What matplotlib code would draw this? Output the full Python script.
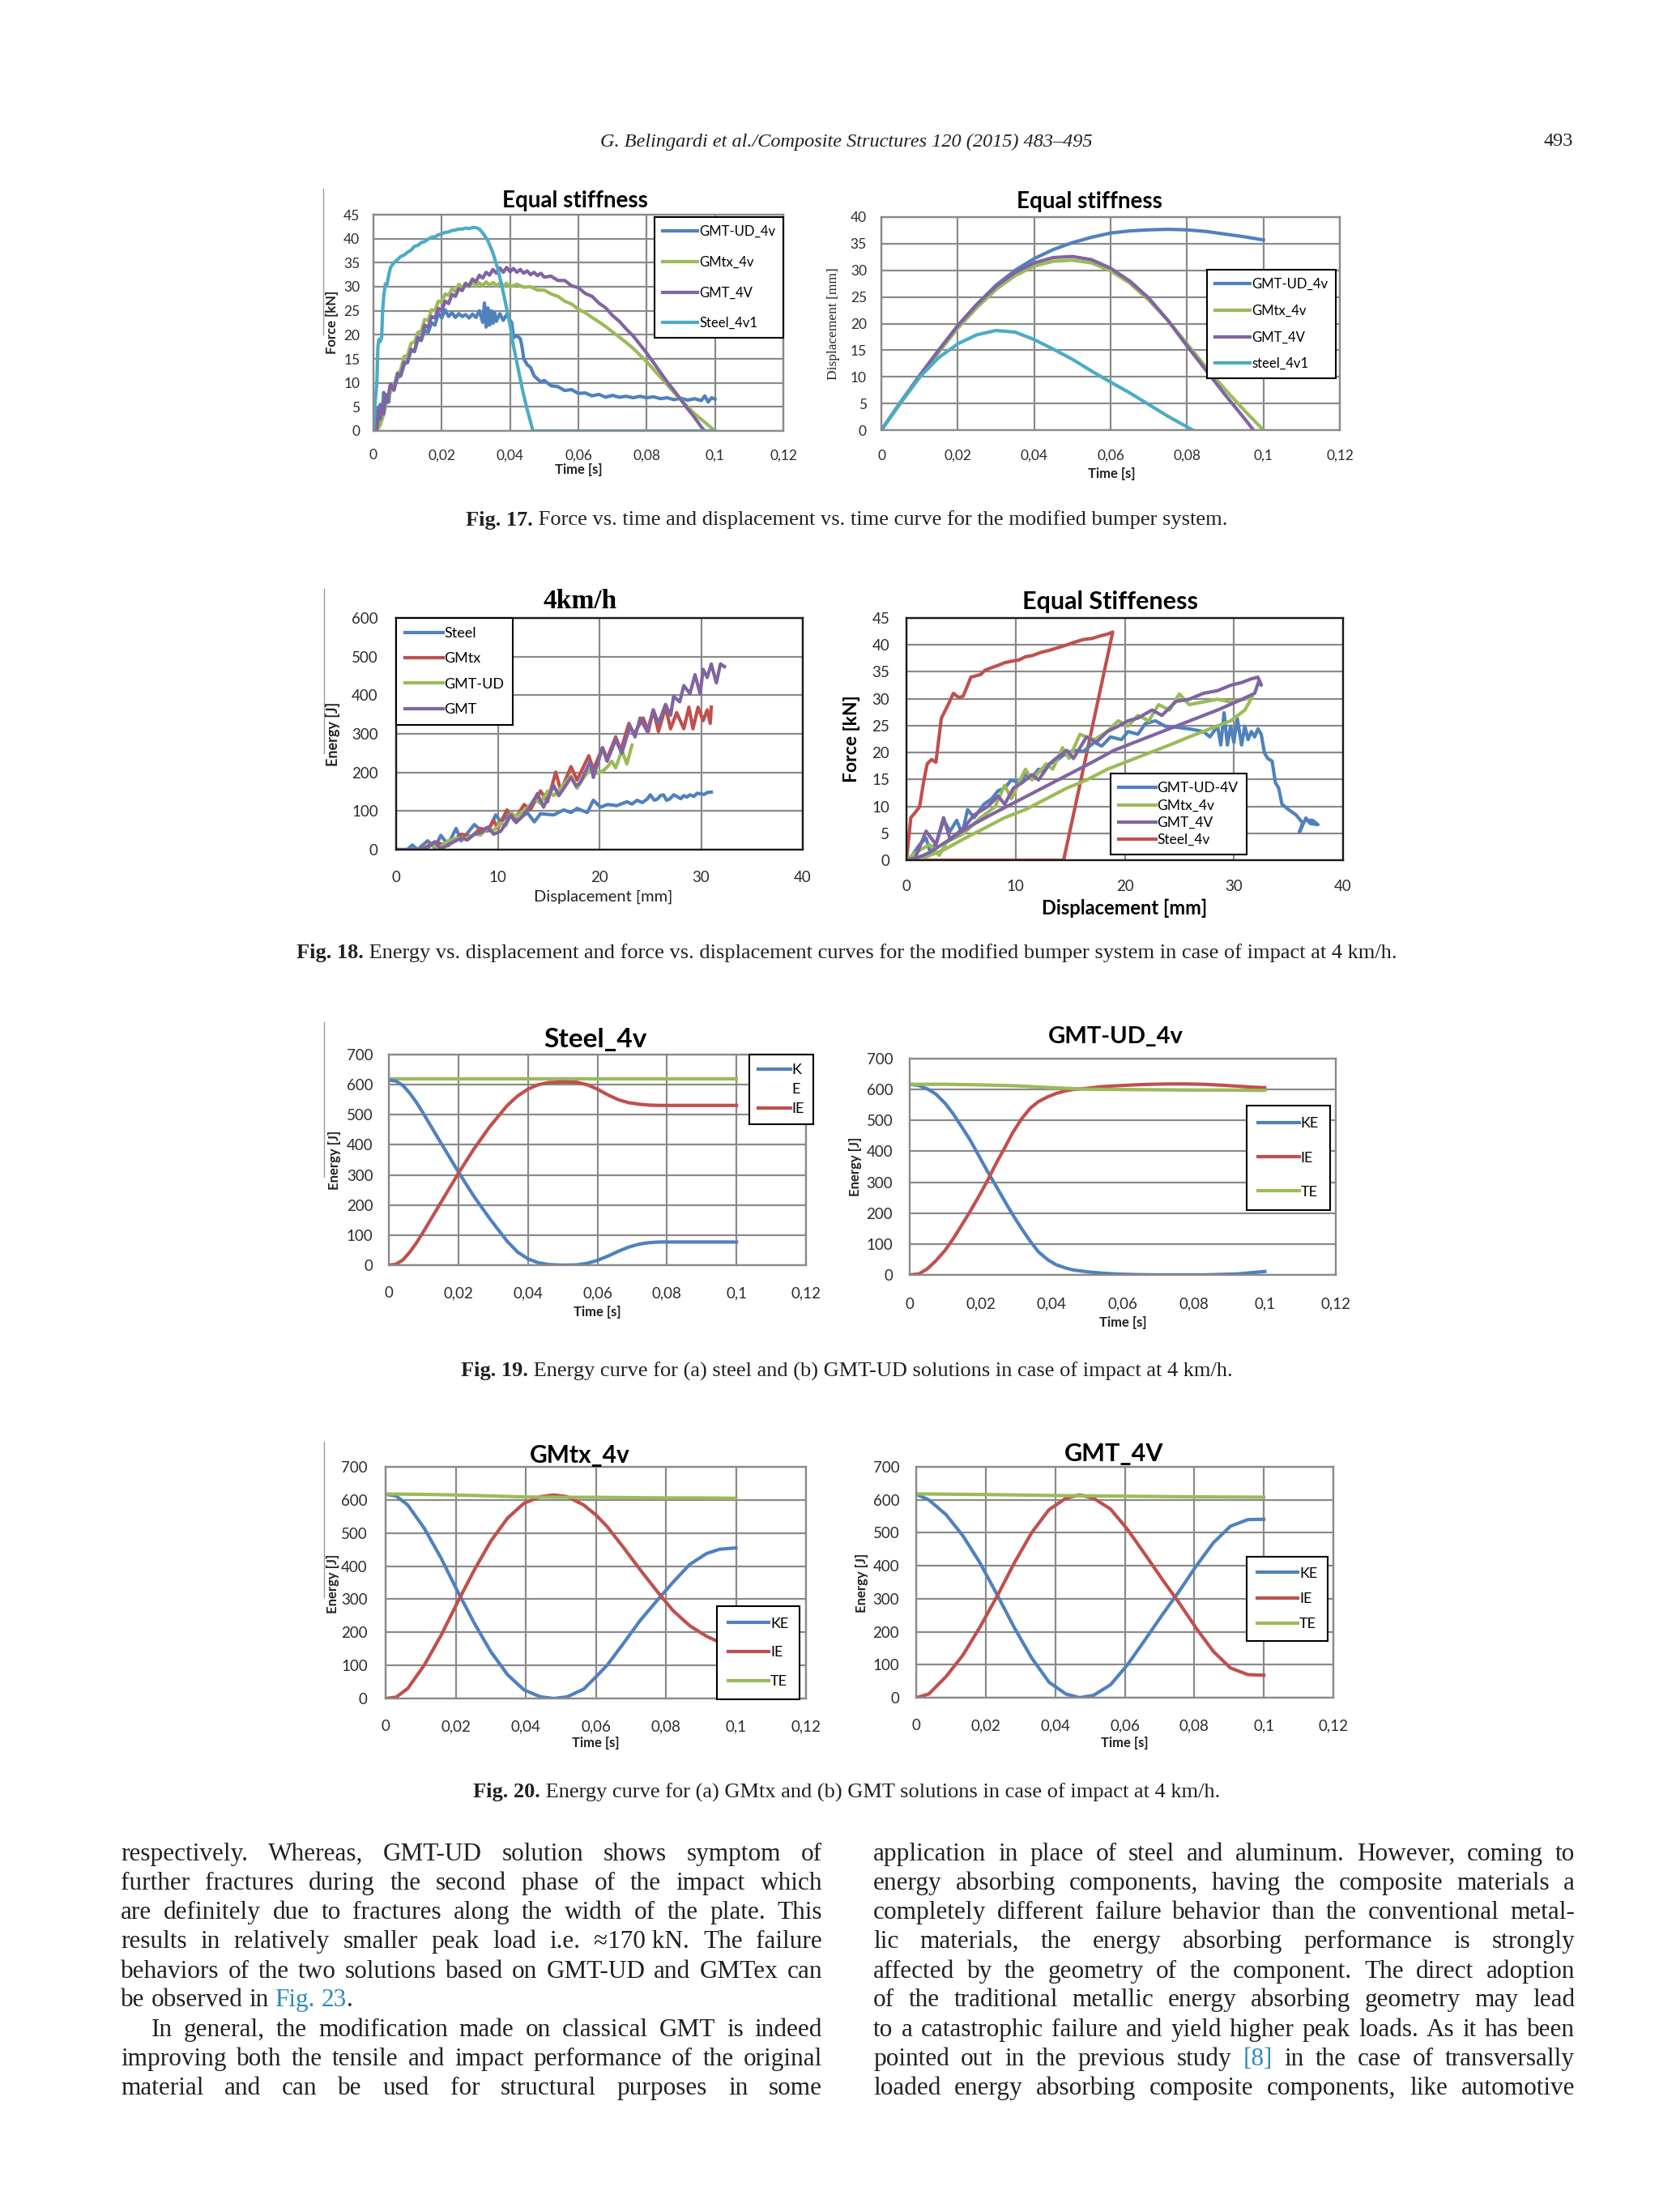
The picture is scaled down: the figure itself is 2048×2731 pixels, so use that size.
import numpy as np
import matplotlib
matplotlib.use('Agg')
import matplotlib.pyplot as plt
from matplotlib.lines import Line2D

#%% Data read from the page
time_ticks = [0, 0.02, 0.04, 0.06, 0.08, 0.1, 0.12]
time_labels = ['0', '0,02', '0,04', '0,06', '0,08', '0,1', '0,12']
disp_ticks = [0, 10, 20, 30, 40]
disp_labels = ['0', '10', '20', '30', '40']

# Fig 17 (a): force [kN] vs time [s]
f17_ud = [(0, 0), (0.0005, 2), (0.001, 4.8), (0.0015, 1.5), (0.002, 5.5), (0.0025, 3), (0.003, 8),
          (0.0035, 5), (0.004, 7), (0.0045, 6), (0.005, 9.6), (0.006, 8.5), (0.007, 11), (0.008, 11.5),
          (0.009, 13.8), (0.010, 14.5), (0.011, 16.8), (0.012, 16.5), (0.013, 19), (0.014, 18.8),
          (0.015, 21), (0.016, 20.5), (0.017, 22.5), (0.018, 22), (0.019, 24.5), (0.020, 23.5),
          (0.021, 25.2), (0.022, 23.8), (0.023, 24.6), (0.024, 23.6), (0.025, 24.4), (0.026, 23.8),
          (0.027, 24.2), (0.028, 23.5), (0.029, 24.3), (0.030, 23.6), (0.031, 25.0), (0.032, 22.6),
          (0.0325, 26.6), (0.033, 21.6), (0.0335, 25.6), (0.034, 22.0), (0.0345, 25.0), (0.035, 22.4),
          (0.0355, 24.6), (0.036, 22.8), (0.037, 24.4), (0.038, 23.0), (0.039, 24.2), (0.040, 23),
          (0.0405, 22.5), (0.041, 19.4), (0.042, 19.8), (0.043, 19.2), (0.0435, 17.5), (0.044, 15),
          (0.045, 13.8), (0.046, 13.2), (0.047, 11.5), (0.048, 10.8), (0.049, 10.2), (0.050, 10.5),
          (0.052, 9.4), (0.054, 9.2), (0.056, 8.4), (0.058, 8.6), (0.060, 7.8), (0.062, 7.9),
          (0.064, 7.3), (0.066, 7.6), (0.068, 7.0), (0.070, 7.4), (0.072, 7.0), (0.074, 7.2),
          (0.076, 6.9), (0.078, 7.2), (0.080, 6.9), (0.082, 7.1), (0.084, 6.7), (0.086, 6.9),
          (0.088, 6.5), (0.090, 6.8), (0.092, 6.4), (0.094, 6.7), (0.096, 6.3), (0.097, 7.3),
          (0.098, 6.0), (0.099, 6.9), (0.100, 6.6)]
f17_gmtx = [(0, 0), (0.001, 0), (0.002, 1.2), (0.003, 3.5), (0.004, 6.5), (0.005, 8), (0.006, 9.5),
            (0.007, 11.5), (0.008, 12.8), (0.009, 15.5), (0.010, 15.8), (0.011, 18.2), (0.012, 18.5),
            (0.013, 20.5), (0.014, 20.8), (0.015, 23.2), (0.016, 23), (0.017, 25.2), (0.018, 25),
            (0.019, 27), (0.020, 26.8), (0.021, 28.5), (0.022, 28.2), (0.023, 29.6), (0.024, 29.0),
            (0.025, 30.5), (0.026, 29.8), (0.027, 30.8), (0.028, 30.0), (0.029, 31.0), (0.030, 30.2),
            (0.031, 30.8), (0.032, 30.2), (0.033, 31.0), (0.034, 30.3), (0.035, 30.9), (0.036, 30.2),
            (0.037, 30.8), (0.038, 30.1), (0.039, 30.7), (0.040, 30.0), (0.042, 30.5), (0.044, 29.9),
            (0.046, 30.0), (0.048, 29.3), (0.050, 29.3), (0.052, 28.5), (0.054, 28.0), (0.056, 27.0),
            (0.058, 26.4), (0.060, 25.3), (0.062, 24.6), (0.064, 23.6), (0.066, 22.7), (0.068, 21.7),
            (0.070, 20.6), (0.072, 19.5), (0.074, 18.4), (0.076, 17.2), (0.078, 15.8), (0.080, 14.4),
            (0.082, 12.8), (0.084, 11.2), (0.086, 9.6), (0.088, 8.0), (0.090, 6.5), (0.092, 5.0),
            (0.094, 3.6), (0.096, 2.4), (0.098, 1.2), (0.100, 0)]
f17_gmt = [(0, 0), (0.001, 0.5), (0.0015, 4.2), (0.002, 2.5), (0.0025, 5.5), (0.003, 3.5), (0.0035, 7.6),
           (0.004, 6), (0.005, 9.8), (0.006, 8.5), (0.007, 12), (0.008, 11.5), (0.009, 14.3),
           (0.010, 14.2), (0.011, 17), (0.012, 16.5), (0.013, 19.5), (0.014, 19), (0.015, 22),
           (0.016, 21.5), (0.017, 23.8), (0.018, 23.5), (0.019, 25.5), (0.020, 25), (0.021, 27),
           (0.022, 26.5), (0.023, 28.4), (0.024, 28), (0.025, 29.6), (0.026, 29.2), (0.027, 30.6),
           (0.028, 30.2), (0.029, 31.6), (0.030, 31.0), (0.031, 32.4), (0.032, 31.8), (0.033, 33.0),
           (0.034, 32.4), (0.035, 33.6), (0.036, 32.8), (0.037, 33.9), (0.038, 33.0), (0.039, 34.0),
           (0.040, 33.1), (0.041, 33.8), (0.042, 33.0), (0.043, 33.6), (0.044, 32.8), (0.045, 33.3),
           (0.046, 32.5), (0.047, 33.0), (0.048, 32.3), (0.049, 32.8), (0.050, 32.0), (0.052, 32.2),
           (0.054, 31.3), (0.056, 31.3), (0.058, 30.2), (0.060, 29.8), (0.062, 28.6), (0.064, 28.0),
           (0.066, 26.6), (0.068, 25.6), (0.070, 24.0), (0.072, 22.8), (0.074, 21.2), (0.076, 19.8),
           (0.078, 18.0), (0.080, 16.2), (0.082, 14.2), (0.084, 12.2), (0.086, 10.2), (0.088, 8.4),
           (0.090, 6.5), (0.092, 4.6), (0.094, 2.8), (0.096, 0.8), (0.097, 0)]
f17_steel = [(0, 0), (0.0005, 6), (0.001, 10), (0.0013, 17.5), (0.0016, 19), (0.002, 18.6), (0.0024, 19.5),
             (0.0027, 25), (0.003, 28), (0.0035, 30.6), (0.004, 30.5), (0.0045, 32.5), (0.005, 34),
             (0.006, 35), (0.007, 35.6), (0.008, 36.3), (0.009, 36.6), (0.010, 37.2), (0.011, 37.6),
             (0.012, 38.4), (0.013, 38.6), (0.014, 39.2), (0.015, 39.4), (0.016, 39.9), (0.017, 40.3),
             (0.018, 40.4), (0.019, 40.8), (0.020, 41.0), (0.021, 41.3), (0.022, 41.4), (0.023, 41.7),
             (0.024, 41.8), (0.025, 42.0), (0.026, 42.0), (0.027, 42.2), (0.028, 42.1), (0.029, 42.3),
             (0.030, 42.3), (0.031, 42.0), (0.032, 41.2), (0.0335, 39.6), (0.035, 37.0), (0.0363, 34.0),
             (0.0375, 30.5), (0.0387, 26.5), (0.040, 22.0), (0.041, 17.7), (0.0425, 12.5), (0.0438, 8.0),
             (0.045, 4.5), (0.0467, 0), (0.1, 0)]

# Fig 17 (b): displacement [mm] vs time [s]
f17_disp_time = [0, 0.005, 0.01, 0.015, 0.02, 0.025, 0.03, 0.035, 0.04, 0.045, 0.05,
                 0.055, 0.06, 0.065, 0.07, 0.075, 0.08, 0.085, 0.09, 0.095, 0.1]
f17_disp_ud = [0, 5.2, 10.2, 15.0, 19.6, 23.6, 27.2, 30.0, 32.2, 33.9, 35.2,
               36.2, 37.0, 37.4, 37.6, 37.7, 37.6, 37.3, 36.8, 36.3, 35.7]
f17_disp_gmtx = [0, 5.0, 9.9, 14.6, 19.1, 23.0, 26.4, 29.0, 30.8, 31.7, 31.9,
                 31.4, 29.9, 27.6, 24.4, 20.6, 16.2, 11.8, 7.6, 3.7, 0]
f17_disp_gmt_time = [0, 0.005, 0.01, 0.015, 0.02, 0.025, 0.03, 0.035, 0.04, 0.045, 0.05,
                     0.055, 0.06, 0.065, 0.07, 0.075, 0.08, 0.085, 0.09, 0.095, 0.0974]
f17_disp_gmt = [0, 5.2, 10.2, 15.0, 19.6, 23.6, 27.0, 29.6, 31.4, 32.4, 32.6,
                32.0, 30.4, 28.0, 24.8, 20.6, 15.8, 11.2, 6.6, 2.2, 0]
f17_disp_steel_time = [0, 0.005, 0.01, 0.015, 0.02, 0.025, 0.03, 0.035, 0.04,
                       0.045, 0.05, 0.055, 0.06, 0.065, 0.07, 0.075, 0.0815]
f17_disp_steel = [0, 5.2, 9.9, 13.6, 16.2, 17.9, 18.7, 18.4, 17.0,
                  15.2, 13.3, 11.1, 9.0, 7.0, 4.8, 2.6, 0]

# Fig 18 (a): energy [J] vs displacement [mm]
f18_steel = [(0, 0), (1.1, 0), (1.6, 12), (2.1, 0), (3.1, 23), (3.8, 5), (4.4, 37), (5.1, 13), (5.9, 55),
             (6.4, 23), (7.7, 65), (8.3, 51), (9.2, 58), (9.8, 90), (10.3, 72), (11.3, 96), (11.9, 75),
             (12.9, 96), (13.6, 72), (14.2, 93), (15.5, 90), (16.5, 103), (17.2, 96), (17.8, 107),
             (18.8, 96), (19.4, 128), (20.1, 110), (20.8, 117), (21.7, 114), (22.7, 124), (23.2, 118),
             (23.7, 128), (24.2, 122), (24.7, 131), (25.0, 142), (25.4, 128), (25.7, 131), (26.0, 140),
             (26.3, 142), (26.6, 128), (26.9, 131), (27.3, 142), (27.6, 138), (28.0, 132), (28.3, 140),
             (28.6, 136), (28.9, 142), (29.3, 138), (29.6, 146), (29.9, 145), (30.3, 143), (30.6, 148),
             (31.0, 149)]
f18_gmtx = [(0, 0), (2.5, 0), (3.8, 20), (5.1, 10), (6.4, 40), (7.4, 34), (8.3, 55), (9.0, 48), (9.6, 76),
            (10.0, 55), (10.9, 103), (11.6, 76), (12.6, 117), (13.2, 103), (14.2, 152), (14.9, 124),
            (15.7, 201), (16.2, 152), (17.2, 215), (17.8, 180), (18.95, 243), (19.4, 208), (20.3, 264),
            (20.75, 236), (21.6, 292), (22.1, 257), (22.9, 327), (23.4, 299), (24.3, 341), (24.8, 306),
            (25.3, 362), (25.8, 306), (26.5, 369), (27.0, 313), (27.6, 355), (28.3, 313), (28.8, 369),
            (29.2, 313), (29.7, 369), (30.2, 334), (30.6, 362), (30.9, 327), (31.0, 369)]
f18_ud = [(0, 0), (2.8, 0), (3.5, 12), (4.2, 5), (5.1, 23), (6.0, 30), (6.8, 28), (7.7, 40), (8.3, 38),
          (9.0, 55), (9.6, 50), (10.3, 69), (10.8, 62), (11.3, 96), (11.8, 85), (12.3, 96), (13.0, 110),
          (13.6, 131), (14.2, 120), (14.9, 152), (15.5, 140), (16.2, 160), (16.7, 175), (17.2, 191),
          (17.8, 159), (18.4, 185), (19.1, 208), (19.8, 198), (20.4, 205), (20.8, 215), (21.2, 229),
          (21.6, 212), (22.2, 257), (22.7, 222), (23.2, 271)]
f18_gmt = [(0, 0), (2.8, 0), (3.8, 20), (4.4, 2), (5.5, 18), (6.4, 30), (7.0, 25), (7.7, 40), (8.4, 45),
           (9.0, 58), (9.6, 40), (10.3, 48), (11.3, 90), (11.8, 70), (12.3, 83), (13.3, 115), (13.9, 145),
           (14.5, 110), (15.5, 166), (16.0, 140), (16.5, 159), (17.2, 187), (17.7, 165), (18.1, 173),
           (19.1, 229), (19.4, 187), (20.3, 264), (20.75, 229), (21.6, 285), (22.2, 250), (23.0, 320),
           (23.5, 292), (24.0, 341), (24.7, 306), (25.3, 362), (25.8, 327), (26.5, 376), (27.0, 348),
           (27.3, 397), (27.9, 383), (28.3, 425), (28.9, 404), (29.4, 453), (29.9, 404), (30.2, 467),
           (30.6, 446), (31.0, 481), (31.5, 432), (31.9, 481), (32.3, 474)]

# Fig 18 (b): force [kN] vs displacement [mm]
f18b_steel = [(0, 0), (0.4, 7.9), (0.7, 8.6), (1.2, 9.9), (1.6, 14.9), (1.9, 17.9), (2.3, 18.7),
              (2.7, 18.2), (3.2, 26.4), (3.7, 28.4), (4.3, 31), (4.8, 30.2), (5.2, 30.5), (5.9, 34),
              (6.8, 34.5), (7.2, 35.3), (7.7, 35.7), (8.4, 36.2), (9.0, 36.7), (9.7, 37.0), (10.3, 37.2),
              (10.9, 37.8), (11.5, 38.0), (12.3, 38.6), (13.1, 39.0), (13.9, 39.5), (14.7, 40.0),
              (15.4, 40.5), (16.2, 41.0), (17.0, 41.2), (17.8, 41.7), (18.4, 42.0), (18.9, 42.4),
              (14.4, 0), (0, 0)]
f18b_ud = [(0, 0), (0.5, 0.8), (1.2, 2.9), (1.8, 4.1), (2.1, 1.9), (2.7, 3.0), (3.4, 7.4), (4.0, 5.4),
           (4.6, 7.4), (5.1, 4.9), (5.6, 9.4), (6.2, 7.9), (7.1, 10.4), (7.8, 11.4), (8.4, 12.9),
           (9.0, 13.4), (9.6, 14.9), (10.3, 14.4), (10.9, 15.9), (11.5, 15.4), (12.1, 16.9), (12.6, 16.4),
           (13.1, 17.9), (13.7, 18.4), (14.3, 19.4), (14.8, 19.9), (15.3, 20.4), (16.2, 20.2), (17.2, 21.9),
           (17.9, 21.2), (18.7, 22.9), (19.7, 22.4), (20.3, 23.9), (21.2, 23.4), (21.9, 25.4), (22.8, 25.9),
           (23.7, 24.9), (24.7, 24.7), (25.9, 24.4), (27.2, 23.9), (27.8, 22.9), (28.5, 24.9), (28.8, 21.4),
           (29.1, 27.4), (29.4, 21.4), (29.7, 24.9), (30.0, 21.9), (30.3, 26.4), (30.7, 21.4), (31.0, 24.9),
           (31.3, 22.4), (31.6, 23.9), (31.9, 22.9), (32.2, 24.4), (32.5, 23.4), (32.8, 19.9), (33.1, 18.9),
           (33.5, 18.4), (33.8, 14.4), (34.1, 13.4), (34.4, 10.4), (35.0, 9.4), (35.7, 8.4), (36.3, 6.9),
           (36.0, 5.2), (36.5, 7.4), (37.2, 7.4), (37.7, 6.6), (37.0, 6.8), (36.6, 7.8)]
f18b_gmtx = [(0, 0), (0.85, 1.4), (2.1, 2.9), (3.0, 0.9), (3.7, 3.4), (5.2, 4.9), (6.8, 7.9), (8.1, 9.9),
             (9.0, 13.9), (9.6, 11.4), (10.9, 16.9), (11.5, 14.9), (12.8, 17.9), (13.4, 16.9), (14.3, 20.9),
             (14.9, 18.9), (15.9, 23.4), (16.5, 22.9), (17.2, 22.4), (18.4, 23.9), (19.4, 25.9), (20.3, 24.9),
             (21.2, 26.9), (22.2, 25.9), (23.1, 28.9), (24.1, 27.9), (25.0, 30.9), (25.9, 28.9), (27.2, 29.4),
             (28.5, 29.9), (29.7, 29.4), (31.0, 29.9), (31.7, 30.4), (31.0, 27.9), (29.7, 25.9), (27.8, 24.4),
             (25.9, 22.9), (24.1, 21.4), (22.2, 19.9), (20.3, 18.4), (18.4, 16.9), (16.5, 14.9), (14.7, 13.4),
             (12.8, 11.4), (10.9, 9.4), (9.0, 7.9), (7.1, 5.9), (5.2, 3.9), (3.4, 1.9), (1.8, 0.6), (0, 0)]
f18b_gmt = [(0, 0), (0.8, 0.4), (1.8, 5.4), (2.7, 2.9), (3.4, 7.9), (4.0, 3.9), (5.2, 5.9), (6.2, 8.4),
            (7.4, 9.9), (8.4, 11.9), (9.0, 10.4), (9.8, 13.4), (10.6, 14.4), (11.5, 15.9), (12.1, 14.9),
            (13.1, 17.9), (13.7, 18.9), (14.7, 20.4), (15.3, 18.9), (16.5, 22.9), (17.4, 21.9), (18.4, 23.9),
            (19.4, 24.9), (20.3, 25.9), (21.2, 26.4), (22.5, 27.9), (23.4, 26.9), (24.7, 29.5), (25.9, 29.9),
            (27.2, 31.0), (28.5, 31.5), (29.7, 32.5), (30.7, 33.0), (31.6, 33.7), (32.2, 34.0), (32.5, 32.5),
            (32.3, 33.4), (31.9, 31.0), (30.3, 29.5), (28.5, 27.9), (26.6, 26.4), (24.7, 24.9), (22.8, 23.4),
            (20.9, 21.9), (19.0, 20.4), (17.2, 18.4), (15.3, 16.4), (13.4, 14.4), (11.5, 12.4), (9.6, 10.4),
            (7.7, 8.4), (5.9, 6.4), (4.0, 3.9), (2.1, 1.4), (0.5, 0)]

# Fig 19 (a) Steel_4v energies [J] vs time [s]
steel_ke = [(0, 615), (0.002, 612), (0.004, 598), (0.006, 572), (0.008, 540), (0.010, 503), (0.0148, 410),
            (0.020, 310), (0.0244, 230), (0.029, 155), (0.034, 80), (0.037, 44), (0.040, 21), (0.043, 8),
            (0.046, 2), (0.050, 0), (0.054, 1), (0.057, 6), (0.060, 16), (0.063, 30), (0.066, 46),
            (0.069, 60), (0.072, 70), (0.075, 75), (0.078, 77), (0.082, 77), (0.1, 77)]
steel_ie = [(0, 0), (0.002, 3), (0.004, 17), (0.006, 43), (0.008, 75), (0.010, 112), (0.0148, 205),
            (0.020, 305), (0.0244, 385), (0.029, 460), (0.034, 530), (0.037, 562), (0.040, 585),
            (0.043, 600), (0.046, 607), (0.050, 609), (0.054, 608), (0.057, 600), (0.060, 585),
            (0.063, 566), (0.066, 550), (0.069, 540), (0.072, 535), (0.075, 532), (0.078, 531),
            (0.082, 531), (0.1, 531)]
steel_te = [(0, 618), (0.1, 618)]

# Fig 19 (b) GMT-UD_4v
ud_ke = [(0, 617), (0.0026, 613), (0.005, 602), (0.0074, 585), (0.010, 555), (0.0122, 522), (0.0146, 480),
         (0.017, 437), (0.0195, 385), (0.0219, 335), (0.0243, 288), (0.0267, 240), (0.029, 195),
         (0.0315, 150), (0.034, 108), (0.0363, 74), (0.039, 48), (0.0412, 33), (0.044, 22), (0.046, 16),
         (0.050, 10), (0.0537, 6), (0.058, 3), (0.0633, 1), (0.070, 0), (0.0826, 0), (0.0922, 3), (0.1, 11)]
ud_ie = [(0, 0), (0.0026, 3), (0.005, 20), (0.0074, 46), (0.010, 80), (0.0122, 116), (0.0146, 160),
         (0.017, 205), (0.0195, 255), (0.0219, 305), (0.0243, 360), (0.0267, 410), (0.029, 460),
         (0.0315, 505), (0.034, 540), (0.0363, 561), (0.039, 577), (0.0412, 587), (0.044, 596),
         (0.046, 600), (0.050, 604), (0.0537, 609), (0.058, 612), (0.0633, 615), (0.068, 617),
         (0.073, 618), (0.078, 618), (0.0826, 617), (0.088, 614), (0.0922, 611), (0.096, 608), (0.1, 606)]
ud_te = [(0, 617), (0.01, 617), (0.02, 615), (0.03, 612), (0.04, 606), (0.05, 601), (0.06, 600),
         (0.07, 599), (0.08, 598), (0.09, 598), (0.1, 597)]

# Fig 20 (a) GMtx_4v
gmtx_ke = [(0, 617), (0.003, 612), (0.0063, 585), (0.011, 515), (0.0158, 425), (0.0205, 325), (0.0253, 228),
           (0.030, 142), (0.0348, 72), (0.0395, 26), (0.0442, 5), (0.048, 0), (0.0518, 5), (0.0565, 28),
           (0.060, 65), (0.0632, 100), (0.068, 168), (0.0726, 235), (0.0774, 295), (0.0821, 352),
           (0.0868, 405), (0.0916, 438), (0.0953, 451), (0.1, 455)]
gmtx_ie = [(0, 0), (0.003, 4), (0.0063, 30), (0.011, 100), (0.0158, 190), (0.0205, 290), (0.0253, 388),
           (0.030, 475), (0.0348, 545), (0.0395, 590), (0.0442, 610), (0.048, 615), (0.0518, 610),
           (0.0565, 585), (0.060, 555), (0.0632, 520), (0.068, 455), (0.0726, 390), (0.0774, 325),
           (0.0821, 265), (0.0868, 220), (0.0916, 188), (0.0953, 170), (0.1, 150)]
gmtx_te = [(0, 618), (0.01, 617), (0.02, 615), (0.03, 612), (0.04, 609), (0.05, 608), (0.06, 608),
           (0.07, 607), (0.08, 606), (0.09, 606), (0.1, 605)]

# Fig 20 (b) GMT_4V
gmt_ke = [(0, 617), (0.0036, 600), (0.0086, 555), (0.0135, 490), (0.0184, 408), (0.0234, 310),
          (0.0283, 211), (0.0332, 121), (0.0382, 47), (0.0431, 11), (0.047, 0), (0.051, 7), (0.0559, 39),
          (0.0608, 100), (0.0658, 175), (0.0707, 250), (0.0756, 322), (0.0806, 400), (0.0855, 470),
          (0.0904, 520), (0.0954, 540), (0.1, 541)]
gmt_ie = [(0, 0), (0.0036, 11), (0.0086, 64), (0.0135, 130), (0.0184, 215), (0.0234, 310), (0.0283, 410),
          (0.0332, 500), (0.0382, 570), (0.0431, 605), (0.047, 615), (0.051, 605), (0.0559, 572),
          (0.0608, 510), (0.0658, 435), (0.0707, 360), (0.0756, 288), (0.0806, 210), (0.0855, 140),
          (0.0904, 90), (0.0954, 70), (0.1, 68)]
gmt_te = [(0, 618), (0.02, 616), (0.04, 613), (0.06, 611), (0.08, 609), (0.1, 608)]

# Page text
header = 'G. Belingardi et al./Composite Structures 120 (2015) 483\u2013495'
page_no = '493'
captions = [('Fig. 17.', ' Force vs. time and displacement vs. time curve for the modified bumper system.'),
            ('Fig. 18.', ' Energy vs. displacement and force vs. displacement curves for the modified bumper system in case of impact at 4 km/h.'),
            ('Fig. 19.', ' Energy curve for (a) steel and (b) GMT-UD solutions in case of impact at 4 km/h.'),
            ('Fig. 20.', ' Energy curve for (a) GMtx and (b) GMT solutions in case of impact at 4 km/h.')]
left_col = ['respectively. Whereas, GMT-UD solution shows symptom of',
            'further fractures during the second phase of the impact which',
            'are definitely due to fractures along the width of the plate. This',
            'results in relatively smaller peak load i.e. \u2248170\u00a0kN. The failure',
            'behaviors of the two solutions based on GMT-UD and GMTex can',
            'be observed in |Fig.| |23|.',
            'In general, the modification made on classical GMT is indeed',
            'improving both the tensile and impact performance of the original',
            'material and can be used for structural purposes in some']
right_col = ['application in place of steel and aluminum. However, coming to',
             'energy absorbing components, having the composite materials a',
             'completely different failure behavior than the conventional metal-',
             'lic materials, the energy absorbing performance is strongly',
             'affected by the geometry of the component. The direct adoption',
             'of the traditional metallic energy absorbing geometry may lead',
             'to a catastrophic failure and yield higher peak loads. As it has been',
             'pointed out in the previous study |[8]| in the case of transversally',
             'loaded energy absorbing composite components, like automotive']

#%% Style
BLUE, RED, GREEN, PURPLE, CYAN = '#4f81bd', '#c0504d', '#9bbb59', '#8064a2', '#4bacc6'
SANS = ['Lato', 'DejaVu Sans']
SERIF = ['Liberation Serif', 'DejaVu Serif']
INK = '#231f20'
LINK = '#2a8ab8'
plt.rcParams['font.family'] = SANS
LW = 3.0

W, H = 2048, 2731
fig = plt.figure(figsize=(W / 100, H / 100), dpi=100)
fig.patch.set_facecolor('white')
renderer = fig.canvas.get_renderer()


def ftext(x, y, s, **kw):
    return fig.text(x / W, 1 - y / H, s, **kw)


def chart(box, xlim, xticks, xlabels, ymax, ystep, xpad, ypad, vgrid=True, frame='#8a8a8a', tfs=13):
    l, t, r, b = box
    ax = fig.add_axes([l / W, 1 - b / H, (r - l) / W, (b - t) / H])
    ax.set_xlim(xlim)
    ax.set_ylim(0, ymax)
    ax.set_xticks(xticks)
    ax.set_xticklabels(xlabels)
    ax.set_yticks(np.arange(0, ymax + 1e-9, ystep))
    ax.grid(axis='both' if vgrid else 'y', color='#8a8a8a', lw=1.6)
    ax.set_axisbelow(True)
    for s in ax.spines.values():
        s.set_color(frame)
        s.set_linewidth(1.7)
    ax.tick_params(length=0, labelsize=tfs, labelcolor='#2b2b2b')
    ax.tick_params(axis='x', pad=xpad)
    ax.tick_params(axis='y', pad=ypad)
    return ax


def plot_pairs(ax, pairs, color, **kw):
    arr = np.array(pairs)
    return ax.plot(arr[:, 0], arr[:, 1], color=color, lw=LW, solid_joinstyle='round', **kw)[0]


def legend(ax, handles, labels, x, y, spacing, fs=12, hl=2.6, bp=0.6):
    leg = ax.legend(handles, labels, loc='upper left', bbox_to_anchor=(x / W, 1 - y / H),
                    bbox_transform=fig.transFigure, borderaxespad=0, fancybox=False,
                    fontsize=fs, handlelength=hl, handletextpad=0.1, labelspacing=spacing,
                    borderpad=bp, framealpha=1)
    leg.get_frame().set_edgecolor('black')
    leg.get_frame().set_linewidth(1.5)
    return leg


def labels(title, tx, ty, xlab, xx, xy, ylab, yx, yy, tfs=20, lfs=12):
    ftext(tx, ty, title, fontsize=tfs, weight='bold', ha='center', va='center', color='black')
    ftext(xx, xy, xlab, fontsize=lfs, weight='bold', ha='center', va='center', color='#222222')
    ftext(yx, yy, ylab, fontsize=lfs, weight='bold', ha='center', va='center', rotation=90, color='#222222')


def scan_mark(x, y0, y1):
    fig.add_artist(Line2D([x / W, x / W], [1 - y0 / H, 1 - y1 / H], color='#9a9a9a', lw=1.0))


#%% Fig 17 (a)
ax = chart((461, 265, 967, 532), (0, 0.12), time_ticks, time_labels, 45, 5, 16, 12, tfs=12.5)
h1 = plot_pairs(ax, f17_ud, BLUE)
h2 = plot_pairs(ax, f17_gmtx, GREEN)
h3 = plot_pairs(ax, f17_gmt, PURPLE)
h4 = plot_pairs(ax, f17_steel, CYAN)
legend(ax, [h1, h2, h3, h4], ['GMT-UD_4v', 'GMtx_4v', 'GMT_4V', 'Steel_4v1'], 808, 268, 1.3, fs=12)
labels('Equal stiffness', 710, 248, 'Time [s]', 714, 580, 'Force [kN]', 410, 398)
scan_mark(399, 233, 413)

#%% Fig 17 (b)
ax = chart((1088, 268, 1654, 531), (0, 0.12), time_ticks, time_labels, 40, 5, 17, 13, tfs=12.5)
h1, = ax.plot(f17_disp_time, f17_disp_ud, color=BLUE, lw=LW)
h2, = ax.plot(f17_disp_time, f17_disp_gmtx, color=GREEN, lw=LW)
h3, = ax.plot(f17_disp_gmt_time, f17_disp_gmt, color=PURPLE, lw=LW)
h4, = ax.plot(f17_disp_steel_time, f17_disp_steel, color=CYAN, lw=LW)
legend(ax, [h1, h2, h3, h4], ['GMT-UD_4v', 'GMtx_4v', 'GMT_4V', 'steel_4v1'], 1490, 333, 1.0, fs=12)
ftext(1345, 249, 'Equal stiffness', fontsize=20, weight='bold', ha='center', va='center')
ftext(1372, 585, 'Time [s]', fontsize=12, weight='bold', ha='center', va='center', color='#222222')
ftext(1029, 400, 'Displacement [mm]', fontsize=12.5, family=SERIF, ha='center', va='center',
      rotation=90, color='#222222')

#%% Fig 18 (a)
ax = chart((489, 763, 991, 1049), (0, 40), disp_ticks, disp_labels, 600, 100, 19, 16, frame='#1a1a1a',
           tfs=13.5)
h1 = plot_pairs(ax, f18_steel, BLUE)
h2 = plot_pairs(ax, f18_gmtx, RED)
h3 = plot_pairs(ax, f18_ud, GREEN)
h4 = plot_pairs(ax, f18_gmt, PURPLE)
legend(ax, [h1, h2, h3, h4], ['Steel', 'GMtx', 'GMT-UD', 'GMT'], 489, 763, 0.85, fs=13)
ftext(716, 743, '4km/h', fontsize=24, weight='bold', family=SERIF, ha='center', va='center')
ftext(745, 1107, 'Displacement [mm]', fontsize=14.5, ha='center', va='center', color='#222222')
ftext(411, 906, 'Energy [J]', fontsize=13, weight='bold', ha='center', va='center', rotation=90,
      color='#222222')
scan_mark(400, 727, 930)

#%% Fig 18 (b)
ax = chart((1119, 763, 1658, 1062), (0, 40), disp_ticks, disp_labels, 45, 5, 17, 15, frame='#1a1a1a',
           tfs=13.5)
h4 = plot_pairs(ax, f18b_steel, RED)
h1 = plot_pairs(ax, f18b_ud, BLUE)
h2 = plot_pairs(ax, f18b_gmtx, GREEN)
h3 = plot_pairs(ax, f18b_gmt, PURPLE)
legend(ax, [h1, h2, h3, h4], ['GMT-UD-4V', 'GMtx_4v', 'GMT_4V', 'Steel_4v'], 1371, 955, 0.3, fs=12.5)
ftext(1370, 743, 'Equal Stiffeness', fontsize=22, weight='bold', ha='center', va='center')
ftext(1388, 1121, 'Displacement [mm]', fontsize=17, weight='bold', ha='center', va='center')
ftext(1052, 912, 'Force [kN]', fontsize=16.5, weight='bold', ha='center', va='center', rotation=90)

#%% Fig 19 (a)
ax = chart((480, 1302, 995, 1562), (0, 0.12), time_ticks, time_labels, 700, 100, 19, 14, tfs=13.5)
h3 = plot_pairs(ax, steel_te, GREEN)
h1 = plot_pairs(ax, steel_ke, BLUE)
h2 = plot_pairs(ax, steel_ie, RED)
ghost = Line2D([], [], color='none')
legend(ax, [h1, ghost, h2], ['K', 'E', 'IE'], 925, 1302, 0.45, fs=13, hl=2.2)
labels('Steel_4v', 735, 1283, 'Time [s]', 737, 1620, 'Energy [J]', 413, 1432, tfs=24)

scan_mark(400, 1262, 1453)

#%% Fig 19 (b)
ax = chart((1123, 1307, 1649, 1574), (0, 0.12), time_ticks, time_labels, 700, 100, 20, 15, vgrid=False,
           tfs=13.5)
h1 = plot_pairs(ax, ud_ke, BLUE)
h2 = plot_pairs(ax, ud_ie, RED)
h3 = plot_pairs(ax, ud_te, GREEN)
legend(ax, [h1, h2, h3], ['KE', 'IE', 'TE'], 1539, 1365, 1.45, fs=13, hl=2.8, bp=0.8)
labels('GMT-UD_4v', 1377, 1280, 'Time [s]', 1386, 1633, 'Energy [J]', 1056, 1440, tfs=21)

#%% Fig 20 (a)
ax = chart((476, 1811, 995, 2097), (0, 0.12), time_ticks, time_labels, 700, 100, 19, 16, tfs=13.5)
h1 = plot_pairs(ax, gmtx_ke, BLUE)
h2 = plot_pairs(ax, gmtx_ie, RED)
h3 = plot_pairs(ax, gmtx_te, GREEN)
legend(ax, [h1, h2, h3], ['KE', 'IE', 'TE'], 885, 1983, 1.1, fs=13, hl=2.8, bp=0.75)
labels('GMtx_4v', 716, 1797, 'Time [s]', 735, 2152, 'Energy [J]', 411, 1955, tfs=21.5)
scan_mark(400, 1780, 1972)

#%% Fig 20 (b)
ax = chart((1131, 1811, 1646, 2096), (0, 0.12), time_ticks, time_labels, 700, 100, 19, 15, tfs=13.5)
h1 = plot_pairs(ax, gmt_ke, BLUE)
h2 = plot_pairs(ax, gmt_ie, RED)
h3 = plot_pairs(ax, gmt_te, GREEN)
legend(ax, [h1, h2, h3], ['KE', 'IE', 'TE'], 1539, 1922, 0.85, fs=13, hl=2.8, bp=0.7)
labels('GMT_4V', 1375, 1795, 'Time [s]', 1388, 2152, 'Energy [J]', 1064, 1954, tfs=22)

#%% Header and captions
ftext(1045, 175, header, fontsize=17.5, style='italic', family=SERIF, ha='center', va='center', color=INK)
ftext(1942, 175, page_no, fontsize=17.5, family=SERIF, ha='right', va='center', color=INK)


def text_width(t):
    return t.get_window_extent(renderer).width


def caption(y, bold, rest, cx=1045):
    t1 = ftext(0, y, bold, fontsize=19, weight='bold', family=SERIF, va='center', color=INK)
    t2 = ftext(0, y, rest, fontsize=19, family=SERIF, va='center', color=INK)
    w1, w2 = text_width(t1), text_width(t2)
    x0 = cx - (w1 + w2) / 2
    t1.set_x(x0 / W)
    t2.set_x((x0 + w1) / W)


for (bold, rest), y in zip(captions, [642, 1177, 1693, 2213]):
    caption(y, bold, rest)

#%% Body text, justified word by word
BODY_FS = 22.5


def body_line(line, x0, x1, y, justify=True):
    words = []
    for w in line.split(' '):
        parts = []
        for i, p in enumerate(w.split('|')):
            if p:
                parts.append(ftext(0, y, p, fontsize=BODY_FS, family=SERIF, va='baseline',
                                   color=LINK if i % 2 else INK))
        words.append(parts)
    widths = [sum(text_width(p) for p in parts) for parts in words]
    natural_gap = BODY_FS * 100 / 72 * 0.25
    if justify and len(words) > 1:
        gap = (x1 - x0 - sum(widths)) / (len(words) - 1)
    else:
        gap = natural_gap
    x = x0
    for parts, wd in zip(words, widths):
        px = x
        for p in parts:
            p.set_x(px / W)
            px += text_width(p)
        x += wd + gap


line_y = [2297, 2333, 2369, 2405, 2442, 2477, 2514, 2550, 2586]
for i, (line, y) in enumerate(zip(left_col, line_y)):
    indent = 38 if i == 6 else 0
    body_line(line, 149 + indent, 1015, y, justify=(i != 5))
for line, y in zip(right_col, line_y):
    body_line(line, 1078, 1944, y)

fig.savefig('out.png', dpi=100, facecolor='white')
